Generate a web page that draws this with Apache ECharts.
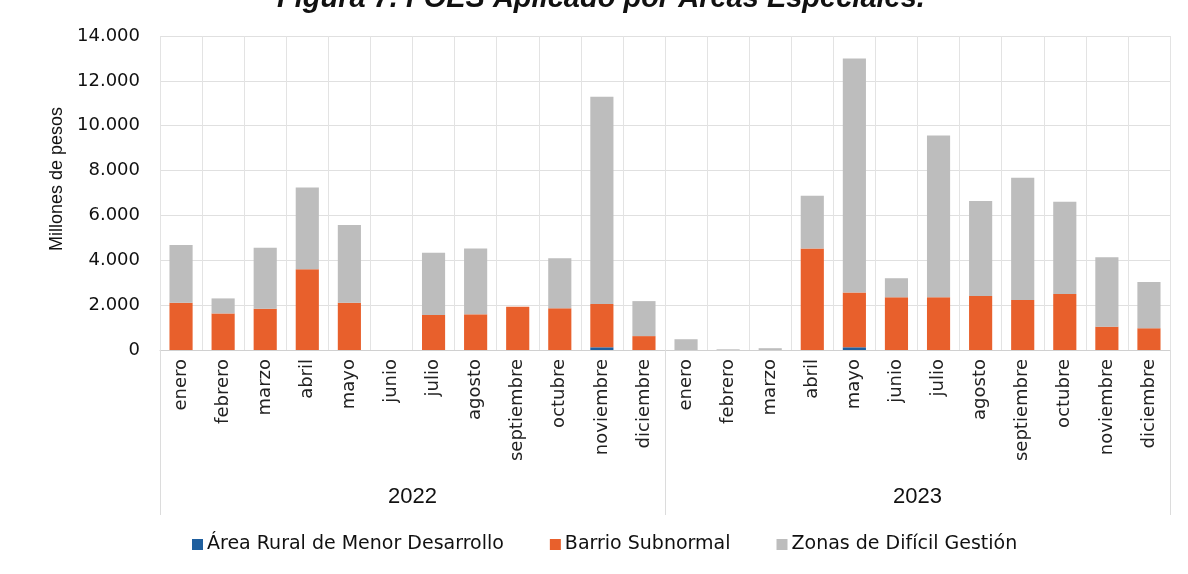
<!DOCTYPE html>
<html><head><meta charset="utf-8">
<script src="https://cdn.jsdelivr.net/npm/echarts@6/dist/echarts.min.js"></script>
<style>html,body{margin:0;padding:0;background:#fff}#c{width:1188px;height:574px}</style>
</head><body><div id="c"></div>
<script>
const months = ['enero','febrero','marzo','abril','mayo','junio','julio','agosto','septiembre','octubre','noviembre','diciembre',
                'enero','febrero','marzo','abril','mayo','junio','julio','agosto','septiembre','octubre','noviembre','diciembre'];
const years = ['2022','2023'];
const seriesNames = ['Área Rural de Menor Desarrollo','Barrio Subnormal','Zonas de Difícil Gestión'];
const ruralValues = [0,0,0,0,0,0,0,0,0,0,120,0, 0,0,0,0,120,0,0,0,0,0,0,0];
const barrioValues = [2110,1630,1840,3600,2110,0,1560,1590,1930,1860,1930,620, 0,0,0,4530,2440,2350,2350,2410,2230,2500,1040,970];
const zonasValues = [2570,670,2720,3640,3460,0,2780,2940,0,2230,9240,1560, 480,30,80,2350,10440,850,7210,4230,5450,4110,3090,2060];
const yTicks = [0,2000,4000,6000,8000,10000,12000,14000];

const chart = echarts.init(document.getElementById('c'));
const fmt = v => String(v).replace(/\B(?=(\d{3})+(?!\d))/g, '.');
const colors = ['#1F5F9E','#E8602C','#BDBDBD'];
const vals = [ruralValues, barrioValues, zonasValues];
chart.setOption({
  animation:false,
  title:{text:'Figura 7. FOES Aplicado por Áreas Especiales.', left:272, top:-21,
    textStyle:{fontFamily:'Liberation Sans', fontSize:29, fontWeight:'bold', fontStyle:'italic', color:'#111'}},
  grid:{left:160, right:18, top:36, bottom:224},
  legend:{top:535, left:192, padding:0, icon:'rect', itemWidth:11, itemHeight:11, itemGap:46,
    textStyle:{fontFamily:'DejaVu Sans', fontSize:19, color:'#111', padding:[0,0,0,-1]},
    data:seriesNames},
  xAxis:[{
    type:'category', data:months, position:'bottom',
    axisLine:{lineStyle:{color:'#d0d0d0'}}, axisTick:{show:false},
    splitLine:{show:true, lineStyle:{color:'#e3e3e3'}},
    axisLabel:{rotate:90, interval:0, margin:9, fontFamily:'DejaVu Sans', fontSize:18, color:'#222'}
  },{
    type:'category', data:years, position:'bottom',
    axisLine:{show:false}, axisTick:{show:true, length:165, lineStyle:{color:'#dcdcdc'}},
    axisLabel:{margin:136, fontFamily:'Liberation Sans', fontSize:22, color:'#111'}
  }],
  yAxis:{type:'value', min:yTicks[0], max:yTicks[yTicks.length-1], interval:2000,
    name:'Millones de pesos', nameLocation:'middle', nameGap:90, nameRotate:90,
    nameTextStyle:{fontFamily:'Liberation Sans', fontSize:18, color:'#111', padding:[0,0,0,28]},
    axisLine:{show:false}, axisTick:{show:false},
    splitLine:{lineStyle:{color:'#e0e0e0'}},
    axisLabel:{formatter:fmt, margin:20, fontFamily:'DejaVu Sans', fontSize:18, color:'#111'}},
  series: seriesNames.map((n,i)=>({
    name:n, type:'bar', stack:'t', data:vals[i], xAxisIndex:0,
    barCategoryGap:'45%', itemStyle:{color:colors[i]}
  }))
});
</script></body></html>
